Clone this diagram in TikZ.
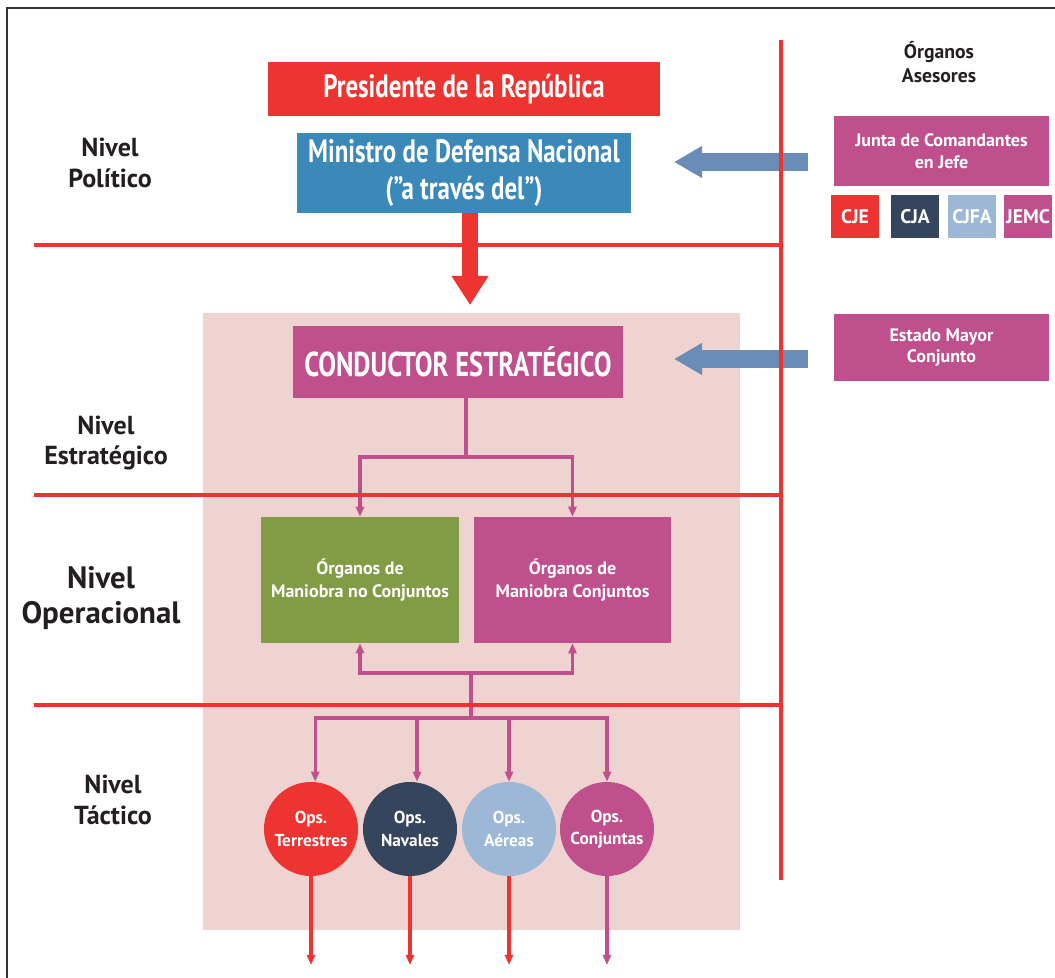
\documentclass[tikz,border=0pt]{standalone}
\usepackage{fontspec}
\setmainfont{PT Sans}
\newfontfamily\condensed[FakeStretch=0.77]{PT Sans}
\usetikzlibrary{arrows.meta}
\definecolor{rojo}{RGB}{238,52,49}
\definecolor{azul}{RGB}{58,137,185}
\definecolor{morado}{RGB}{192,80,141}
\definecolor{verde}{RGB}{130,156,70}
\definecolor{marino}{RGB}{54,69,94}
\definecolor{celeste}{RGB}{157,183,214}
\definecolor{fondo}{RGB}{239,211,209}
\definecolor{flecha}{RGB}{106,141,183}
\definecolor{tinta}{RGB}{35,31,32}
\begin{document}
\begin{tikzpicture}[x=0.025cm, y=-0.025cm,
    box/.style={rectangle, fill=#1, text=white, inner sep=0pt, align=center},
    opscircle/.style={circle, fill=#1, text=white, minimum size=2.35cm, inner sep=0pt, align=center,
        font=\fontsize{12.3}{16}\selectfont\bfseries},
    smallbox/.style={box=#1, minimum width=1.2cm, minimum height=1.075cm,
        font=\fontsize{14}{16}\selectfont\bfseries},
    levellabel/.style={text=tinta, align=center, font=\fontsize{18.5}{22}\selectfont\bfseries},
    divider/.style={draw=rojo, line width=2.2pt},
    link/.style={draw=morado, line width=2.2pt},
    linkarrow/.style={link, -{Triangle[width=0.2cm,length=0.25cm]}},
    backarrow/.style={link, {Triangle[width=0.2cm,length=0.25cm]}-},
    outarrow/.style={draw=#1, line width=2.2pt, -{Triangle[width=0.2cm,length=0.25cm]}},
    advice/.style={draw=flecha, line width=13.5pt, -{Triangle[width=0.75cm,length=0.7cm]}}]
    \useasboundingbox (0,0) rectangle (1055,978);
    % frame (left and top only)
    \draw[black!80, line width=1.4pt] (7,978) -- (7,8) -- (1055,8);
    % shaded area of the armed forces
    \fill[fondo] (203,313) rectangle (740,930);
    % political level
    \node[box=rojo, minimum width=9.8cm, minimum height=1.35cm,
        font=\condensed\fontsize{23}{27}\selectfont\bfseries] (pres) at (464,89) {Presidente de la República};
    \node[box=azul, minimum width=8.35cm, minimum height=2cm,
        font=\condensed\fontsize{23}{26.5}\selectfont\bfseries] (mdn) at (464,173) {Ministro de Defensa Nacional\\(”a través del”)};
    \coordinate (cdtip) at (470,305);
    \draw[rojo, line width=12pt, -{Triangle[width=0.875cm,length=0.725cm]}] (mdn.south -| cdtip) -- (cdtip);
    % strategic level
    \node[box=morado, minimum width=8.25cm, minimum height=1.8cm,
        font=\condensed\fontsize{24.5}{28}\selectfont\bfseries] (cond) at (458,362) {CONDUCTOR ESTRATÉGICO};
    % operational level
    \node[box=verde, minimum width=4.95cm, minimum height=3.15cm,
        font=\fontsize{12.8}{15.8}\selectfont\bfseries] (omnc) at (360,580) {Órganos de\\Maniobra no Conjuntos};
    \node[box=morado, minimum width=4.925cm, minimum height=3.15cm,
        font=\fontsize{12.8}{15.8}\selectfont\bfseries] (omc) at (572.5,580) {Órganos de\\Maniobra Conjuntos};
    % tactical level
    \node[opscircle=rojo]    (opster) at (311,829) {Ops.\\Terrestres};
    \node[opscircle=marino]  (opsnav) at (410,829) {Ops.\\Navales};
    \node[opscircle=celeste] (opsaer) at (509,829) {Ops.\\Aéreas};
    \node[opscircle=morado]  (opscon) at (607,829) {Ops.\\Conjuntas};
    % links between levels
    \coordinate (split) at (466,457);
    \draw[link] (cond.south -| split) -- (split);
    \draw[linkarrow] (split) -| (omnc.north);
    \draw[linkarrow] (split) -| (omc.north);
    \coordinate (merge) at (471,673);
    \coordinate (fork) at (471,718);
    \draw[backarrow] (omnc.south) |- (merge);
    \draw[backarrow] (omc.south) |- (merge);
    \draw[link] (merge) -- (fork);
    \draw[linkarrow] (fork) -| ([xshift=3]opster.north);
    \draw[linkarrow] (fork) -| ([xshift=5]opsnav.north);
    \draw[linkarrow] (fork) -| (opsaer.north);
    \draw[linkarrow] (fork) -| (opscon.north);
    \coordinate (bottom) at (0,965);
    \draw[outarrow=rojo]   (opster.south) -- (opster.south |- bottom);
    \draw[outarrow=rojo]   (opsnav.south) -- (opsnav.south |- bottom);
    \draw[outarrow=rojo]   (opsaer.south) -- (opsaer.south |- bottom);
    \draw[outarrow=morado] (opscon.south) -- (opscon.south |- bottom);
    % advisory bodies
    \node[text=tinta, align=center, font=\fontsize{14}{16.5}\selectfont\bfseries] (aseso) at (939,62) {Órganos\\Asesores};
    \node[box=morado, minimum width=5.375cm, minimum height=1.75cm,
        font=\fontsize{12.8}{15.6}\selectfont\bfseries] (junta) at (941.5,151) {Junta de Comandantes\\en Jefe};
    \node[smallbox=rojo]    (cje)  at (855,216.5)  {CJE};
    \node[smallbox=marino]  (cja)  at (915,216.5)  {CJA};
    \node[smallbox=celeste] (cjfa) at (972,216.5)  {CJFA};
    \node[smallbox=morado]  (jemc) at (1028,216.5) {JEMC};
    \node[box=morado, minimum width=5.375cm, minimum height=1.675cm,
        font=\fontsize{12.8}{15.2}\selectfont\bfseries] (emc) at (941.5,347.5) {Estado Mayor\\Conjunto};
    \coordinate (juntatip) at (674,162);
    \coordinate (emctip) at (674,359);
    \draw[advice] (808,162) -- (juntatip);
    \draw[advice] (808,359) -- (emctip);
    % level dividers
    \draw[divider] (781,40) -- (781,880);
    \draw[divider] (34,245) -- (781,245);
    \draw[divider] (34,495) -- (781,495);
    \draw[divider] (34,705) -- (781,705);
    % level labels
    \node[levellabel] (politico) at (110,163) {Nivel\\Político};
    \node[levellabel] (estrategico) at (106,443) {Nivel\\Estratégico};
    \node[levellabel, font=\fontsize{22}{24.5}\selectfont\bfseries] (operacional) at (101,598) {Nivel\\Operacional};
    \node[levellabel] (tactico) at (113,800) {Nivel\\Táctico};
\end{tikzpicture}
\end{document}
